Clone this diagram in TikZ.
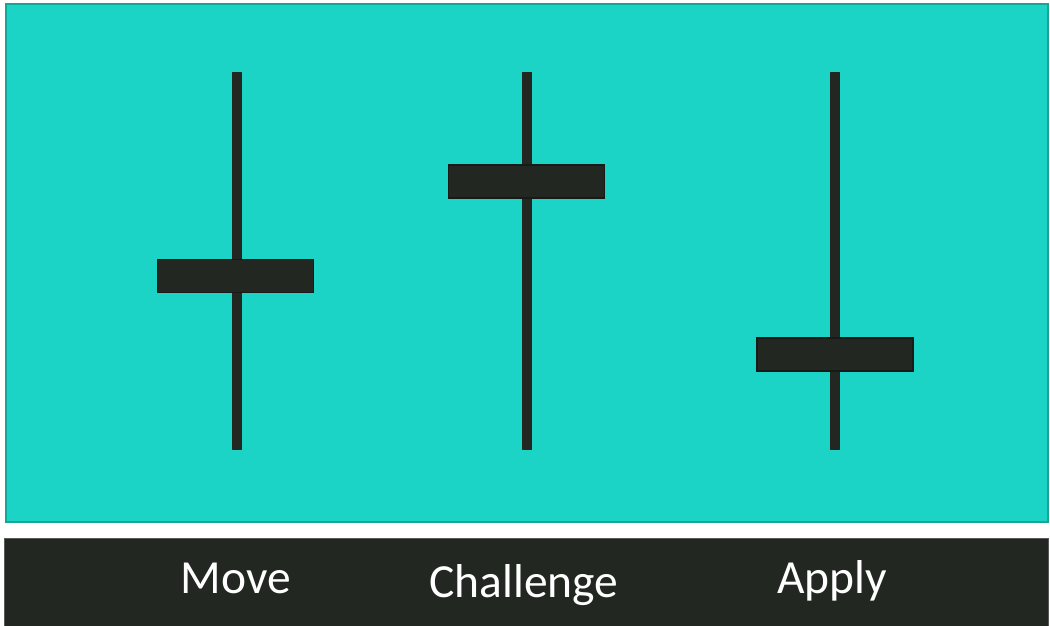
\documentclass[tikz,border=0pt]{standalone}
\usepackage{fontspec}
\setmainfont{Carlito}
\definecolor{teal1}{HTML}{1BD4C6}
\definecolor{tealedge}{HTML}{16A596}
\definecolor{darkbar}{HTML}{222722}
\definecolor{boxedge}{HTML}{171A17}
\tikzset{
  rail/.style={fill=darkbar, draw=none},
  slider/.style={fill=darkbar, draw=boxedge, line width=1.5pt},
  lbl/.style={text=white, font=\fontsize{47.5}{52}\selectfont, anchor=base}
}
\begin{document}
\begin{tikzpicture}[x=1pt,y=-1pt]
\useasboundingbox (0,0) rectangle (1050,626);
\fill[white] (0,0) rectangle (1050,626);
\node[draw=tealedge, line width=2pt, fill=teal1, inner sep=0, minimum width=1042pt, minimum height=518pt, anchor=north west] (panel) at (5,3) {};
\node[draw=gray!70!black, line width=1pt, fill=darkbar, inner sep=0, minimum width=1044pt, minimum height=92pt, anchor=north west] (bar) at (4,538) {};
% rails
\fill[rail] (232,72) rectangle (242,450);
\fill[rail] (522,72) rectangle (532,450);
\fill[rail] (830,72) rectangle (840,450);
% sliders
\node[slider, inner sep=0, minimum width=156pt, minimum height=33pt] (s1) at (235.5,276) {};
\node[slider, inner sep=0, minimum width=156pt, minimum height=33pt] (s2) at (526.5,181.5) {};
\node[slider, inner sep=0, minimum width=156pt, minimum height=33pt] (s3) at (835,354.5) {};
% labels
\node[lbl] (l1) at (236,593) {Move};
\node[lbl] (l2) at (524,597) {Challenge};
\node[lbl] (l3) at (832,593) {Apply};
\end{tikzpicture}
\end{document}
